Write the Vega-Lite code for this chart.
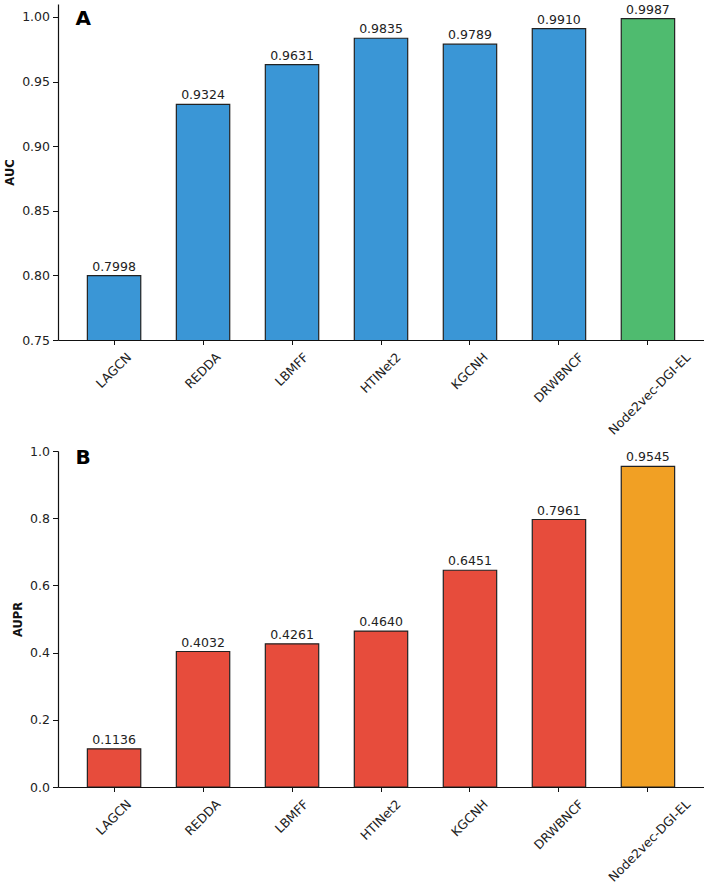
{
  "$schema": "https://vega.github.io/schema/vega-lite/v6.json",
  "padding": {"left": 4, "top": 3, "right": 0, "bottom": 0},
  "background": "white",
  "config": {
    "font": "DejaVu Sans",
    "view": {"stroke": null},
    "axis": {"domainColor": "#111", "domainWidth": 1.2, "tickColor": "#111", "tickWidth": 1, "labelColor": "#222", "labelFontSize": 12.5, "titleColor": "#111", "titleFontSize": 11.5, "titleFontWeight": "bold", "grid": false},
    "axisY": {"tickSize": 5.5, "labelPadding": 3, "titlePadding": 6},
    "axisX": {"tickSize": 4.5, "labelPadding": 6, "labelAngle": -45, "labelAlign": "right", "labelBaseline": "top", "title": null}
  },
  "datasets": {
    "auc": [
      {"method": "LAGCN", "value": 0.7998, "model": "Baseline"},
      {"method": "REDDA", "value": 0.9324, "model": "Baseline"},
      {"method": "LBMFF", "value": 0.9631, "model": "Baseline"},
      {"method": "HTINet2", "value": 0.9835, "model": "Baseline"},
      {"method": "KGCNH", "value": 0.9789, "model": "Baseline"},
      {"method": "DRWBNCF", "value": 0.9910, "model": "Baseline"},
      {"method": "Node2vec-DGI-EL", "value": 0.9987, "model": "Proposed"}
    ],
    "aupr": [
      {"method": "LAGCN", "value": 0.1136, "model": "Baseline"},
      {"method": "REDDA", "value": 0.4032, "model": "Baseline"},
      {"method": "LBMFF", "value": 0.4261, "model": "Baseline"},
      {"method": "HTINet2", "value": 0.4640, "model": "Baseline"},
      {"method": "KGCNH", "value": 0.6451, "model": "Baseline"},
      {"method": "DRWBNCF", "value": 0.7961, "model": "Baseline"},
      {"method": "Node2vec-DGI-EL", "value": 0.9545, "model": "Proposed"}
    ],
    "letterA": [{"panel": "A", "method": "LAGCN"}],
    "letterB": [{"panel": "B", "method": "LAGCN"}]
  },
  "spacing": 8,
  "resolve": {"scale": {"color": "independent"}},
  "vconcat": [
    {
      "width": 646,
      "height": 336,
      "data": {"name": "auc"},
      "encoding": {
        "x": {"field": "method", "type": "nominal", "sort": null,
          "scale": {"paddingInner": 0.4, "paddingOuter": 0.33},
          "axis": {"labelOffset": {"condition": [
            {"test": "datum.value == 'LAGCN'", "value": 10.9},
            {"test": "datum.value == 'REDDA'", "value": 11.3},
            {"test": "datum.value == 'LBMFF'", "value": 10.0},
            {"test": "datum.value == 'HTINet2'", "value": 13.5},
            {"test": "datum.value == 'KGCNH'", "value": 11.6},
            {"test": "datum.value == 'DRWBNCF'", "value": 18.4}
          ], "value": 36.1}}}
      },
      "layer": [
        {"mark": {"type": "bar", "clip": true, "stroke": "#222", "strokeWidth": 1.2},
         "encoding": {
           "y": {"field": "value", "type": "quantitative",
             "scale": {"domain": [0.75, 1.01], "zero": false, "nice": false},
             "axis": {"title": "AUC", "values": [0.75, 0.8, 0.85, 0.9, 0.95, 1.0], "format": ".2f"}},
           "color": {"field": "model", "type": "nominal", "scale": {"domain": ["Baseline", "Proposed"], "range": ["#3a96d6", "#4fbb6f"]}, "legend": null}}},
        {"mark": {"type": "text", "baseline": "alphabetic", "dy": -5, "fontSize": 12.5, "color": "#222"},
         "encoding": {
           "y": {"field": "value", "type": "quantitative"},
           "text": {"field": "value", "type": "quantitative", "format": ".4f"}}},
        {"data": {"name": "letterA"},
         "mark": {"type": "text", "fontSize": 20, "fontWeight": "bold", "align": "left", "baseline": "alphabetic", "dx": -38.5, "dy": 20.8, "color": "#000"},
         "encoding": {"y": {"datum": 1.01, "type": "quantitative"}, "text": {"field": "panel", "type": "nominal"}}}
      ]
    },
    {
      "width": 646,
      "height": 336,
      "data": {"name": "aupr"},
      "encoding": {
        "x": {"field": "method", "type": "nominal", "sort": null,
          "scale": {"paddingInner": 0.4, "paddingOuter": 0.33},
          "axis": {"labelOffset": {"condition": [
            {"test": "datum.value == 'LAGCN'", "value": 10.9},
            {"test": "datum.value == 'REDDA'", "value": 11.3},
            {"test": "datum.value == 'LBMFF'", "value": 10.0},
            {"test": "datum.value == 'HTINet2'", "value": 13.5},
            {"test": "datum.value == 'KGCNH'", "value": 11.6},
            {"test": "datum.value == 'DRWBNCF'", "value": 18.4}
          ], "value": 36.1}}}
      },
      "layer": [
        {"mark": {"type": "bar", "clip": true, "stroke": "#222", "strokeWidth": 1.2},
         "encoding": {
           "y": {"field": "value", "type": "quantitative",
             "scale": {"domain": [0, 1.0], "nice": false},
             "axis": {"title": "AUPR", "values": [0, 0.2, 0.4, 0.6, 0.8, 1.0], "format": ".1f"}},
           "color": {"field": "model", "type": "nominal", "scale": {"domain": ["Baseline", "Proposed"], "range": ["#e74c3c", "#f1a024"]}, "legend": null}}},
        {"mark": {"type": "text", "baseline": "alphabetic", "dy": -5, "fontSize": 12.5, "color": "#222"},
         "encoding": {
           "y": {"field": "value", "type": "quantitative"},
           "text": {"field": "value", "type": "quantitative", "format": ".4f"}}},
        {"data": {"name": "letterB"},
         "mark": {"type": "text", "fontSize": 20, "fontWeight": "bold", "align": "left", "baseline": "alphabetic", "dx": -38.5, "dy": 13, "color": "#000"},
         "encoding": {"y": {"datum": 1.0, "type": "quantitative"}, "text": {"field": "panel", "type": "nominal"}}}
      ]
    }
  ]
}
